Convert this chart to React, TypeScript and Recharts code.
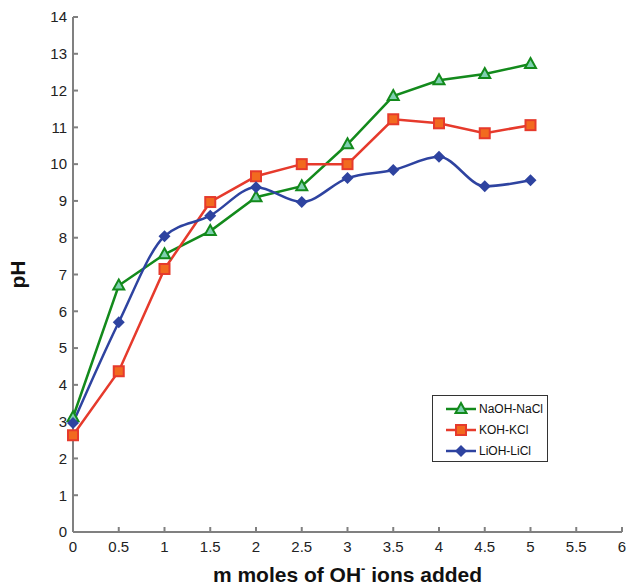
import React from "react";
import { LineChart, Line, XAxis, YAxis, Label } from "recharts";

const moles = [0, 0.5, 1, 1.5, 2, 2.5, 3, 3.5, 4, 4.5, 5];
const naohNacl = [3.12, 6.7, 7.55, 8.18, 9.1, 9.4, 10.54, 11.85, 12.28, 12.45, 12.72];
const kohKcl = [2.63, 4.37, 7.15, 8.97, 9.67, 10.0, 10.0, 11.22, 11.11, 10.84, 11.06];
const liohLicl = [2.96, 5.7, 8.04, 8.6, 9.37, 8.97, 9.62, 9.84, 10.2, 9.4, 9.56];

const xTicks = [0, 0.5, 1, 1.5, 2, 2.5, 3, 3.5, 4, 4.5, 5, 5.5, 6];
const yTicks = [0, 1, 2, 3, 4, 5, 6, 7, 8, 9, 10, 11, 12, 13, 14];

const GREEN = "#138a1c";
const RED = "#e63a2c";
const BLUE = "#2e43a0";
const AXIS = "#808080";
const FONT = "'Liberation Sans', Arial, sans-serif";

const data = moles.map((m, i) => ({
  m,
  naoh: naohNacl[i],
  koh: kohKcl[i],
  lioh: liohLicl[i],
}));

const Triangle = ({ cx, cy }: any) => (
  <path
    d={`M${cx},${cy - 6} L${cx + 5.5},${cy + 4} L${cx - 5.5},${cy + 4} Z`}
    fill="#7fd0b0"
    stroke={GREEN}
    strokeWidth={2}
  />
);

const Square = ({ cx, cy }: any) => (
  <rect x={cx - 5} y={cy - 5} width={10} height={10} fill="#f26a1f" stroke={RED} strokeWidth={2} />
);

const Diamond = ({ cx, cy }: any) => (
  <path d={`M${cx},${cy - 6} L${cx + 6},${cy} L${cx},${cy + 6} L${cx - 6},${cy} Z`} fill={BLUE} />
);

const legendItems = [
  { name: "NaOH-NaCl", color: GREEN, Mark: Triangle },
  { name: "KOH-KCl", color: RED, Mark: Square },
  { name: "LiOH-LiCl", color: BLUE, Mark: Diamond },
];

const XTitle = ({ viewBox }: any) => {
  const cx = viewBox.x + viewBox.width / 2;
  return (
    <text x={cx} y={582} textAnchor="middle" fontFamily={FONT} fontWeight="bold" fontSize={21} fill="#111">
      m moles of OH
      <tspan fontSize={13} dy={-9}>-</tspan>
      <tspan dy={9}> ions added</tspan>
    </text>
  );
};

export default function App() {
  return (
    <div style={{ position: "absolute", left: 0, top: 0, width: 629, height: 588, background: "#fff" }}>
      <LineChart
        width={629}
        height={588}
        data={data}
        margin={{ top: 17, right: 7, left: 13, bottom: 0 }}
      >
        <XAxis
          dataKey="m"
          type="number"
          domain={[0, 6]}
          ticks={xTicks}
          interval={0}
          height={56}
          stroke={AXIS}
          strokeWidth={2}
          tickSize={-5}
          tickMargin={14}
          tick={{ fill: "#222", fontSize: 15, fontFamily: FONT }}
        >
          <Label content={<XTitle />} />
        </XAxis>
        <YAxis
          type="number"
          domain={[0, 14]}
          ticks={yTicks}
          interval={0}
          width={60}
          stroke={AXIS}
          strokeWidth={2}
          tickSize={-5}
          tickMargin={11}
          tick={{ fill: "#222", fontSize: 15, fontFamily: FONT }}
        >
          <Label
            value="pH"
            angle={-90}
            position="insideLeft"
            offset={5}
            style={{ fontFamily: FONT, fontWeight: "bold", fontSize: 21, fill: "#111", textAnchor: "middle" }}
          />
        </YAxis>
        <Line
          type="linear"
          dataKey="naoh"
          name="NaOH-NaCl"
          stroke={GREEN}
          strokeWidth={2.5}
          dot={<Triangle />}
          activeDot={false}
          isAnimationActive={false}
        />
        <Line
          type="linear"
          dataKey="koh"
          name="KOH-KCl"
          stroke={RED}
          strokeWidth={2.5}
          dot={<Square />}
          activeDot={false}
          isAnimationActive={false}
        />
        <Line
          type="monotone"
          dataKey="lioh"
          name="LiOH-LiCl"
          stroke={BLUE}
          strokeWidth={2.5}
          dot={<Diamond />}
          activeDot={false}
          isAnimationActive={false}
        />
      </LineChart>
      <div
        style={{
          position: "absolute",
          left: 432,
          top: 395,
          width: 114,
          height: 65,
          border: "1px solid #333",
          background: "#fff",
          fontFamily: FONT,
          fontSize: 12,
          color: "#111",
        }}
      >
        {legendItems.map((it, i) => (
          <div key={it.name} style={{ position: "absolute", left: 12, top: 5 + i * 21, height: 16, display: "flex", alignItems: "center" }}>
            <svg width={32} height={16}>
              <line x1={1} y1={8} x2={31} y2={8} stroke={it.color} strokeWidth={2.5} />
              <it.Mark cx={16} cy={8} />
            </svg>
            <span style={{ marginLeft: 2 }}>{it.name}</span>
          </div>
        ))}
      </div>
    </div>
  );
}
